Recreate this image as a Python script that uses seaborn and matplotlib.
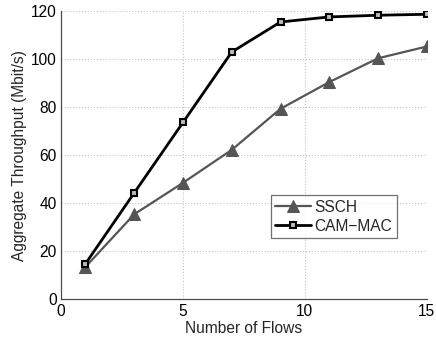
import numpy as np
import pandas as pd
import matplotlib
matplotlib.use("Agg")
import matplotlib.pyplot as plt
import seaborn as sns

flows = [1, 3, 5, 7, 9, 11, 13, 15]
ssch = [13.5, 35.4, 48.5, 62.2, 79.3, 90.4, 100.3, 105.2]
cam_mac = [14.8, 44.3, 73.6, 102.9, 115.4, 117.5, 118.2, 118.6]

df = pd.DataFrame({
    "flows": flows * 2,
    "throughput": ssch + cam_mac,
    "scheme": ["SSCH"] * len(flows) + ["CAM\u2212MAC"] * len(flows),
})

sns.set_style("white")
plt.rcParams['font.family'] = ['Liberation Sans', 'DejaVu Sans']
fs = 11.2

fig = plt.figure(figsize=(4.36, 3.41), dpi=100)
ax = fig.add_axes([0.14, 0.122, 0.839, 0.846])

spine_col = "#4d4d4d"
sns.lineplot(data=df[df["scheme"] == "SSCH"], x="flows", y="throughput", ax=ax,
             color="#555555", linewidth=1.6, marker="^", markersize=8,
             markeredgecolor="#555555", markerfacecolor="#555555", label="SSCH")
sns.lineplot(data=df[df["scheme"] != "SSCH"], x="flows", y="throughput", ax=ax,
             color="black", linewidth=2.0, marker="s", markersize=4.5,
             markeredgecolor="black", markerfacecolor="#bbbbbb", markeredgewidth=1.5,
             label="CAM\u2212MAC")

ax.set_xlim(0, 15)
ax.set_ylim(0, 120)
ax.set_xticks([0, 5, 10, 15])
ax.set_yticks(np.arange(0, 121, 20))
ax.grid(True, linestyle=":", color="#c4c4c4", linewidth=0.8)
ax.set_axisbelow(True)
for s in ["top", "right"]:
    ax.spines[s].set_visible(False)
for s in ["left", "bottom"]:
    ax.spines[s].set_color(spine_col)
    ax.spines[s].set_linewidth(0.9)
ax.tick_params(axis="both", direction="in", length=0, labelsize=fs, colors="black", pad=3)
ax.set_xlabel("Number of Flows", fontsize=fs, labelpad=1.5)
ax.set_ylabel("Aggregate Throughput (Mbit/s)", fontsize=fs, labelpad=3)

leg = ax.legend(loc="upper left", bbox_to_anchor=(0.573, 0.362), fontsize=fs,
                frameon=True, fancybox=False, borderpad=0.3, handlelength=2.3,
                handletextpad=0.2, labelspacing=0.25, borderaxespad=0)
leg.get_frame().set_edgecolor(spine_col)
leg.get_frame().set_linewidth(0.9)

fig.savefig("out.png", dpi=100)
